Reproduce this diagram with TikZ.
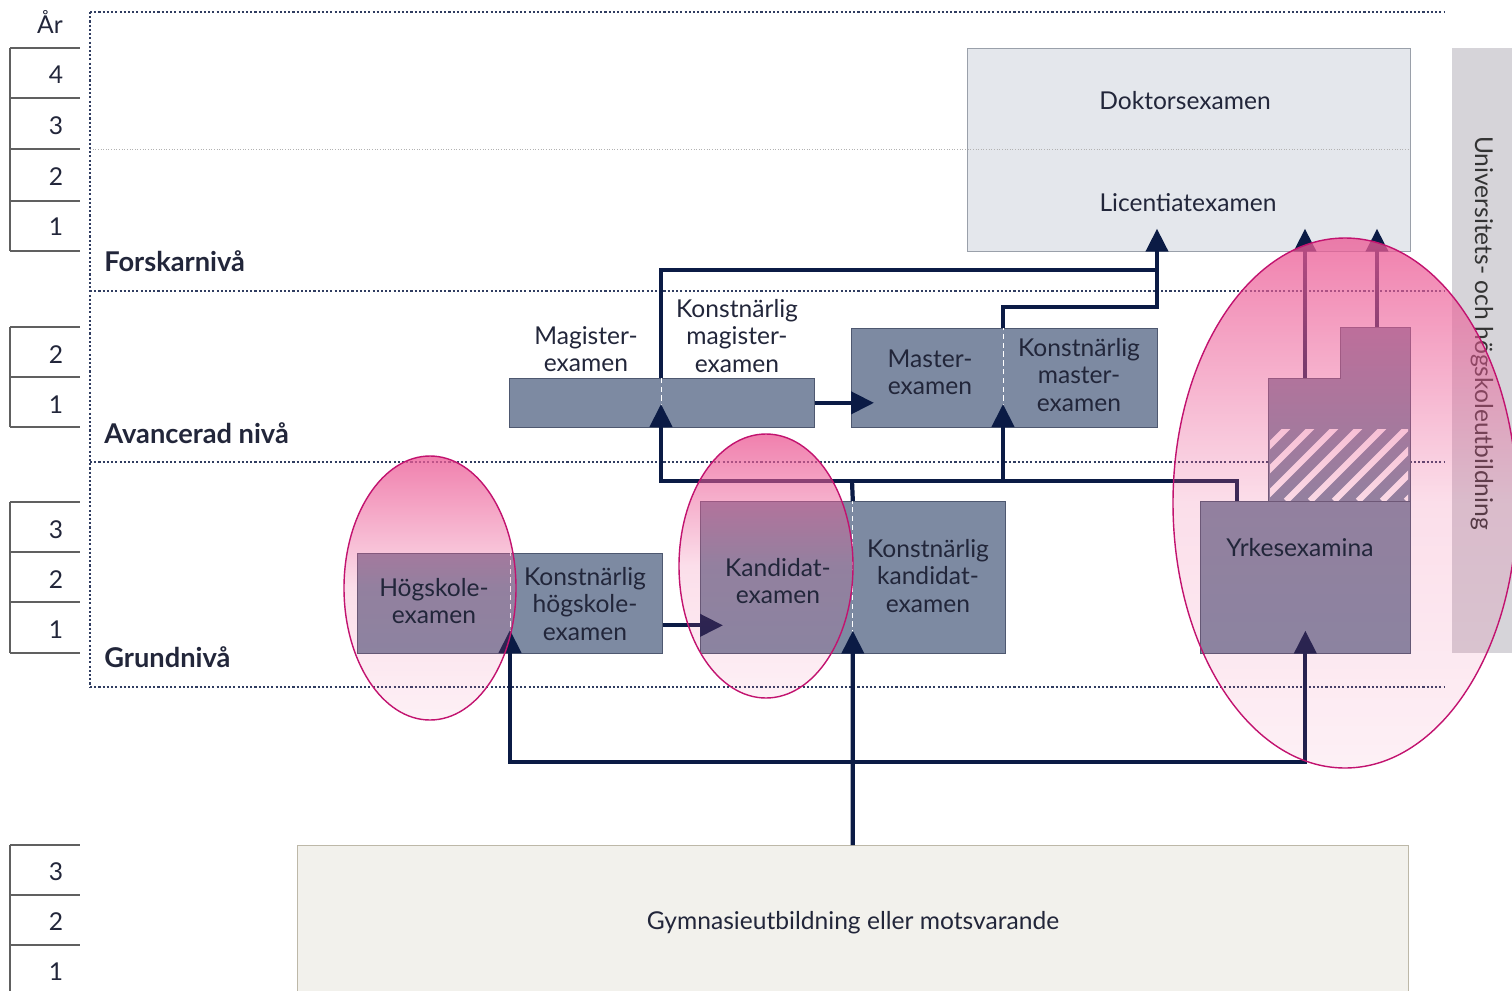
\documentclass[tikz,border=0pt]{standalone}
\usepackage{fontspec}
\setmainfont{Lato}
\usetikzlibrary{arrows.meta,fadings}

\definecolor{navy}{HTML}{0B1B45}
\definecolor{boxfill}{HTML}{7D8AA2}
\definecolor{boxline}{HTML}{4E5870}
\definecolor{dokfill}{HTML}{E4E7EC}
\definecolor{dokline}{HTML}{9AA0AA}
\definecolor{gymfill}{HTML}{F2F1EC}
\definecolor{gymline}{HTML}{BDB8A8}
\definecolor{bandfill}{HTML}{D6D4D9}
\definecolor{textc}{HTML}{22263A}
\definecolor{pinkc}{HTML}{EC5C96}
\definecolor{blobline}{HTML}{C2136F}

\tikzfading[name=pinkfade, top color=transparent!22, bottom color=transparent!91, middle color=transparent!80]

\begin{document}
\begin{tikzpicture}[
	x=0.02cm, y=-0.02cm,
	every node/.style={font=\fontsize{14}{15.5}\selectfont, text=textc, align=center},
	exam/.style={rectangle, draw=boxline, fill=boxfill, anchor=north west, inner sep=0pt},
	level/.style={anchor=base west, inner sep=0pt, font=\fontsize{15.5}{17}\selectfont\bfseries},
	flow/.style={draw=navy, line width=2.4pt, -{Triangle[length=0.46cm,width=0.44cm]}},
	link/.style={draw=navy, line width=2.4pt},
	into/.style={shorten >=-0.46cm},
	divider/.style={draw=white, densely dashed, line width=0.5pt},
	bound/.style={draw=navy!85, line width=1.4pt, dash pattern=on 1.2pt off 1.2pt},
	yearline/.style={draw=gray!75!black, line width=0.8pt},
	blob/.style={draw=blobline, line width=0.8pt},
	]
	\useasboundingbox (0,0) rectangle (1512,991);

	% year columns
	\node (ar) at (50,22) {År};
	\foreach \y/\yr in {75/4,126/3,177/2,227/1,355/2,405/1,530/3,580/2,630/1,872/3,922/2,972/1}
		\node (yr\y) at (56,\y) {\yr};
	\foreach \y in {48,98,149,201,251,327,377,427,502,552,602,653,845,895,945}
		\draw[yearline] (10,\y) -- (80,\y);
	\draw[yearline] (10,48) -- (10,251);
	\draw[yearline] (10,327) -- (10,427);
	\draw[yearline] (10,502) -- (10,653);
	\draw[yearline] (10,845) -- (10,995);

	% levels
	\draw[bound] (90,12) -- (1445,12);
	\draw[bound] (90,12) -- (90,687);
	\foreach \y in {291,462,687}
		\draw[bound] (90,\y) -- (1445,\y);
	\node[level] (forsk) at (104,271) {Forskarnivå};
	\node[level] (avanc) at (104,443) {Avancerad nivå};
	\node[level] (grund) at (104,667) {Grundnivå};

	% boxes
	\node[exam, fill=dokfill, draw=dokline, minimum width=8.86cm, minimum height=4.06cm] (dok) at (967,48) {};
	\draw[gray!60, densely dotted, line width=0.5pt] (90,149) -- (1410,149);
	\node[exam, minimum width=6.1cm, minimum height=0.98cm] (mag) at (509,378) {};
	\node[exam, minimum width=6.12cm, minimum height=1.98cm] (mast) at (851,328) {};
	\node[exam, minimum width=6.1cm, minimum height=2cm] (hog) at (357,553) {};
	\node[exam, minimum width=6.1cm, minimum height=3.04cm] (kand) at (700,501) {};
	\node[exam, minimum width=4.2cm, minimum height=3.04cm] (yrk) at (1200,501) {};
	\draw[boxline, fill=boxfill] (1268,501) -- (1268,378) -- (1340,378) -- (1340,327) -- (1410,327) -- (1410,501) -- cycle;
	\begin{scope}
		\clip (1270,429) rectangle (1408,500);
		\foreach \i in {0,...,9}
			\draw[white!92!pink, line width=3.5pt] (1190+24*\i,501) -- ++(80,-80);
	\end{scope}
	\node[exam, fill=gymfill, draw=gymline, minimum width=22.22cm, minimum height=3.2cm] (gym) at (297,845) {};

	\coordinate (hogdiv) at (510,653);
	\coordinate (magdiv) at (661,427);
	\coordinate (mastdiv) at (1003,427);
	\coordinate (kanddiv) at (852,653);
	\coordinate (gbus) at (852,762);
	\coordinate (kbus) at (852,481);
	\coordinate (mbus) at (1003,307);
	\coordinate (dbus) at (1157,270);
	\coordinate (yk) at (1237,501);
	\coordinate (ya) at (1305,378);
	\coordinate (yb) at (1377,327);

	\draw[divider] (hogdiv) -- (hogdiv |- hog.north);
	\draw[divider] (magdiv) -- (magdiv |- mag.north);
	\draw[divider] (mastdiv) -- (mastdiv |- mast.north);
	\draw[divider] (kanddiv) -- (kanddiv |- kand.north);

	% paths
	\draw[flow,into] (gym.north) -- (kand.south);
	\draw[link, {Triangle[length=0.46cm,width=0.44cm]}-{Triangle[length=0.46cm,width=0.44cm]}, shorten <=-0.46cm, shorten >=-0.46cm]
		(hogdiv) -- (gbus -| hogdiv) -- (gbus -| yrk.south) -- (yrk.south);
	\draw[flow,into] ([yshift=-0.44cm]hog.east) -- ([yshift=-0.44cm]hog.east -| kand.west);
	\draw[link] (kand.north) -- (kbus);
	\draw[flow,into] (yk) -- (yk |- kbus) -- (magdiv |- kbus) -- (magdiv);
	\draw[flow,into] (mastdiv |- kbus) -- (mastdiv);
	\draw[flow,into] (mag.east) -- (mag.east -| mast.west);
	\draw[flow,into] (magdiv |- mag.north) -- (magdiv |- dbus) -- (dbus) -- (dbus |- dok.south);
	\draw[link] (mastdiv |- mast.north) -- (mbus) -- (mbus -| dbus) -- (dbus);
	\draw[flow,into] (ya) -- (ya |- dok.south);
	\draw[flow,into] (yb) -- (yb |- dok.south);

	% side band
	\fill[bandfill] (1452,48) rectangle (1512,653);
	\node[rotate=-90, text=black!80] (band) at (1482,333) {Universitets- och högskoleutbildning};

	% highlights
	\fill[pinkc, path fading=pinkfade] (430,588) ellipse [x radius=86, y radius=132];
	\fill[pinkc, path fading=pinkfade] (766,566) ellipse [x radius=87, y radius=132];
	\fill[pinkc, path fading=pinkfade] (1345,503) ellipse [x radius=172, y radius=265];
	\draw[blob] (430,588) ellipse [x radius=86, y radius=132];
	\draw[blob] (766,566) ellipse [x radius=87, y radius=132];
	\draw[blob] (1345,503) ellipse [x radius=172, y radius=265];

	% texts
	\node (doktxt) at (1185,101) {Doktorsexamen};
	\node (lictxt) at (1188,203) {Licentiatexamen};
	\node (magtxt) at (586,349) {Magister-\\examen};
	\node (kmagtxt) at (737,336) {Konstnärlig\\magister-\\examen};
	\node (masttxt) at (930,372) {Master-\\examen};
	\node (kmasttxt) at (1079,375) {Konstnärlig\\master-\\examen};
	\node (hogtxt) at (434,601) {Högskole-\\examen};
	\node (khogtxt) at (585,604) {Konstnärlig\\högskole-\\examen};
	\node (kandtxt) at (778,581) {Kandidat-\\examen};
	\node (kkandtxt) at (928,576) {Konstnärlig\\kandidat-\\examen};
	\node (yrktxt) at (1300,548) {Yrkesexamina};
	\node (gymtxt) at (853,923) {Gymnasieutbildning eller motsvarande};
\end{tikzpicture}
\end{document}
